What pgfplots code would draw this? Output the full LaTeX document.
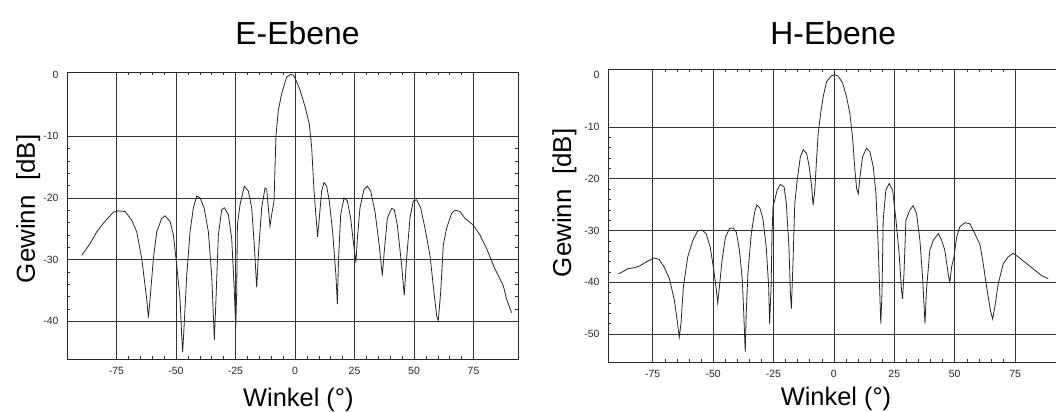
\documentclass[border=0pt]{standalone}
\usepackage{pgfplots}
\pgfplotsset{compat=1.18}
\usepackage{fontspec}
\setmainfont{Liberation Sans}
\begin{document}
\begin{tikzpicture}
\useasboundingbox (0,0) rectangle (1056bp,412bp);
\pgfplotsset{
  chart/.style={
    scale only axis,
    anchor=south west,
    /pgf/number format/assume math mode=true,
    axis line style={black!85, line width=0.8bp},
    grid=major,
    major grid style={black!80, line width=0.7bp},
    xtick={-75,-50,-25,0,25,50,75},
    minor x tick num=4,
    minor y tick num=4,
    major tick length=0pt,
    minor tick length=3bp,
    tick style={black!80, line width=0.5bp},
    tick align=inside,
    ticklabel style={font=\fontsize{10.5}{12}\selectfont, text=black!85},
    xticklabel style={yshift=-5bp},
    yticklabel style={xshift=-5bp},
    extra y ticks={0},
    extra y tick style={grid=none},
    title style={font=\fontsize{32}{36}\selectfont, anchor=base},
    xlabel={Winkel (°)},
    ylabel={Gewinn\ \ [dB]},
    xlabel style={font=\fontsize{25.5}{30}\selectfont, anchor=base},
    ylabel style={font=\fontsize{26}{30}\selectfont, anchor=base, rotate=0},
  },
  curve/.style={black!85, line width=0.8bp, mark=none},
}
% ---------------- E-Ebene ----------------
\begin{axis}[chart,
  at={(67bp,53bp)}, width=451bp, height=287bp,
  xmin=-95.8, xmax=93.7, ymin=-46.1, ymax=0.4,
  ytick={-40,-30,-20,-10},
  title={E-Ebene},
  title style={at={(axis description cs:0.511,1)}, yshift=22bp},
  xlabel style={at={(axis description cs:0.513,-0.164)}},
  ylabel style={at={(axis description cs:-0.071,0.523)}},
]
\addplot[curve] coordinates {
(-89.6,-29.3) (-86.1,-27.4) (-83.3,-25.5) (-80.5,-24.1) (-76.3,-22.3) (-74.2,-22.1)
(-71.4,-22.2) (-68.6,-23.6) (-66.5,-25.5) (-64.4,-29.8) (-62.3,-36.4) (-61.6,-39.4)
(-60.9,-36.4) (-59.5,-29.8) (-58.1,-25.5) (-56.0,-23.3) (-54.6,-22.9) (-52.5,-23.8)
(-51.1,-26.0) (-49.7,-30.9) (-48.3,-36.4) (-47.6,-42.4) (-47.2,-45.0) (-46.6,-40.8)
(-45.5,-32.6) (-44.1,-25.5) (-42.7,-21.6) (-41.3,-19.7) (-39.9,-20.0) (-38.2,-21.6)
(-36.4,-25.5) (-35.0,-32.6) (-34.3,-39.1) (-33.9,-43.0) (-33.2,-36.4) (-32.2,-26.0)
(-30.8,-21.9) (-29.7,-21.6) (-28.0,-22.7) (-26.6,-26.6) (-25.6,-34.2) (-24.9,-41.0)
(-24.5,-35.3) (-24.2,-24.4) (-23.1,-21.1) (-21.3,-18.1) (-19.6,-18.9) (-18.2,-21.6)
(-17.1,-27.7) (-16.1,-34.5) (-15.3,-28.7) (-14.0,-21.6) (-12.6,-18.4) (-11.9,-18.6)
(-10.5,-24.6) (-9.8,-22.7) (-8.8,-20.5) (-8.0,-9.9) (-7.0,-5.8) (-5.6,-3.1)
(-3.5,-0.4) (-1.8,0.0) (-0.7,-0.1) (0.5,-1.0) (2.1,-2.5) (4.2,-5.2) (6.0,-8.0)
(7.0,-11.8) (8.0,-18.9) (9.1,-24.4) (9.5,-26.3) (10.2,-23.3) (11.2,-18.9) (12.2,-17.5)
(13.3,-18.1) (14.4,-20.5) (15.8,-25.5) (17.2,-32.6) (17.8,-37.2) (18.3,-29.8)
(19.2,-22.7) (20.6,-20.0) (22.0,-20.5) (23.4,-23.3) (24.5,-27.1) (25.6,-30.5)
(26.2,-26.6) (27.3,-21.6) (29.0,-18.6) (30.4,-18.1) (31.8,-18.9) (33.6,-22.2)
(35.4,-27.7) (36.7,-32.6) (37.5,-28.7) (38.8,-23.3) (40.6,-21.7) (41.7,-21.9)
(43.0,-24.4) (44.8,-30.9) (45.9,-35.8) (46.9,-29.8) (48.3,-23.3) (49.7,-20.5)
(51.1,-20.3) (52.8,-21.6) (54.6,-24.9) (56.7,-29.3) (58.4,-35.3) (59.5,-39.1)
(60.2,-39.9) (61.2,-35.3) (62.3,-27.7) (63.7,-24.9) (65.8,-22.5) (67.2,-22.0)
(69.3,-22.2) (71.4,-23.3) (74.9,-24.4) (77.7,-26.0) (80.5,-28.2) (84.0,-31.5)
(87.5,-34.2) (88.9,-36.4) (91.0,-38.6)
};
\end{axis}
% ---------------- H-Ebene ----------------
\begin{axis}[chart,
  at={(608bp,50bp)}, width=450.6bp, height=293bp,
  xmin=-93.5, xmax=93, ymin=-55.4, ymax=1.2,
  ytick={-50,-40,-30,-20,-10},
  title={H-Ebene},
  title style={at={(axis description cs:0.50,1)}, yshift=19bp},
  xlabel style={at={(axis description cs:0.506,-0.150)}},
  ylabel style={at={(axis description cs:-0.082,0.543)}},
]
\addplot[curve] coordinates {
(-89.2,-38.4) (-86.8,-37.8) (-85.5,-37.4) (-82.7,-37.2) (-80.6,-36.9) (-77.8,-36.1)
(-74.4,-35.3) (-72.3,-35.6) (-70.2,-37.1) (-68.1,-39.3) (-66.0,-43.5) (-64.7,-48.0)
(-64.0,-50.6) (-63.3,-48.0) (-62.3,-40.9) (-60.5,-35.1) (-58.4,-31.9) (-56.4,-30.1)
(-54.6,-29.9) (-52.9,-30.6) (-51.2,-33.2) (-49.9,-37.1) (-48.8,-40.9) (-48.1,-44.0)
(-47.4,-40.9) (-46.3,-35.8) (-44.9,-31.3) (-43.2,-29.6) (-41.8,-29.5) (-40.4,-30.3)
(-39.1,-33.8) (-37.9,-39.6) (-37.3,-46.1) (-36.7,-53.5) (-36.3,-46.1) (-35.6,-38.4)
(-34.2,-30.6) (-32.8,-26.4) (-31.9,-25.1) (-30.7,-25.6) (-29.4,-27.7) (-28.0,-33.2)
(-27.0,-40.9) (-26.6,-48.0) (-26.0,-40.9) (-25.6,-30.6) (-25.2,-25.4) (-23.5,-22.2)
(-22.2,-21.1) (-20.6,-21.6) (-19.7,-24.8) (-18.6,-33.2) (-18.0,-42.2) (-17.6,-45.1)
(-16.9,-35.8) (-16.2,-24.8) (-15.2,-20.3) (-13.9,-15.8) (-12.7,-14.4) (-11.3,-15.1)
(-10.2,-17.7) (-9.2,-21.6) (-8.6,-25.1) (-7.9,-22.2) (-7.2,-16.4) (-6.5,-11.2)
(-5.5,-7.4) (-4.4,-4.1) (-3.0,-1.2) (-1.0,-0.1) (0.4,0.1) (1.8,-0.2) (3.6,-1.5)
(5.2,-4.1) (6.6,-7.4) (7.7,-11.9) (8.7,-18.3) (9.4,-21.9) (10.1,-22.9) (10.8,-19.6)
(11.9,-15.7) (13.5,-14.1) (14.9,-14.8) (16.3,-17.7) (17.4,-22.9) (18.3,-32.5)
(19.0,-42.2) (19.4,-48.0) (19.9,-42.2) (20.4,-28.0) (21.5,-22.2) (22.9,-20.9)
(24.3,-22.2) (25.7,-28.0) (27.0,-34.5) (28.0,-41.6) (28.4,-43.2) (29.0,-38.4)
(29.8,-28.0) (31.4,-26.1) (32.8,-25.2) (34.2,-26.7) (35.6,-31.9) (36.7,-39.0)
(37.7,-48.0) (38.3,-41.6) (39.7,-33.8) (41.1,-31.9) (43.2,-30.6) (44.6,-31.9)
(45.9,-33.8) (47.3,-38.4) (48.0,-40.0) (48.7,-37.1) (49.7,-35.1) (50.8,-31.3)
(52.1,-29.3) (54.2,-28.5) (56.3,-28.7) (58.3,-30.6) (60.4,-32.6) (61.8,-36.4)
(63.2,-40.9) (64.8,-45.5) (65.7,-47.1) (66.6,-44.8) (68.0,-40.3) (70.1,-36.4)
(72.1,-35.1) (74.2,-34.4) (76.3,-35.1) (79.0,-36.1) (82.5,-37.4) (85.9,-38.7)
(88.7,-39.3)
};
\end{axis}
\end{tikzpicture}
\end{document}
